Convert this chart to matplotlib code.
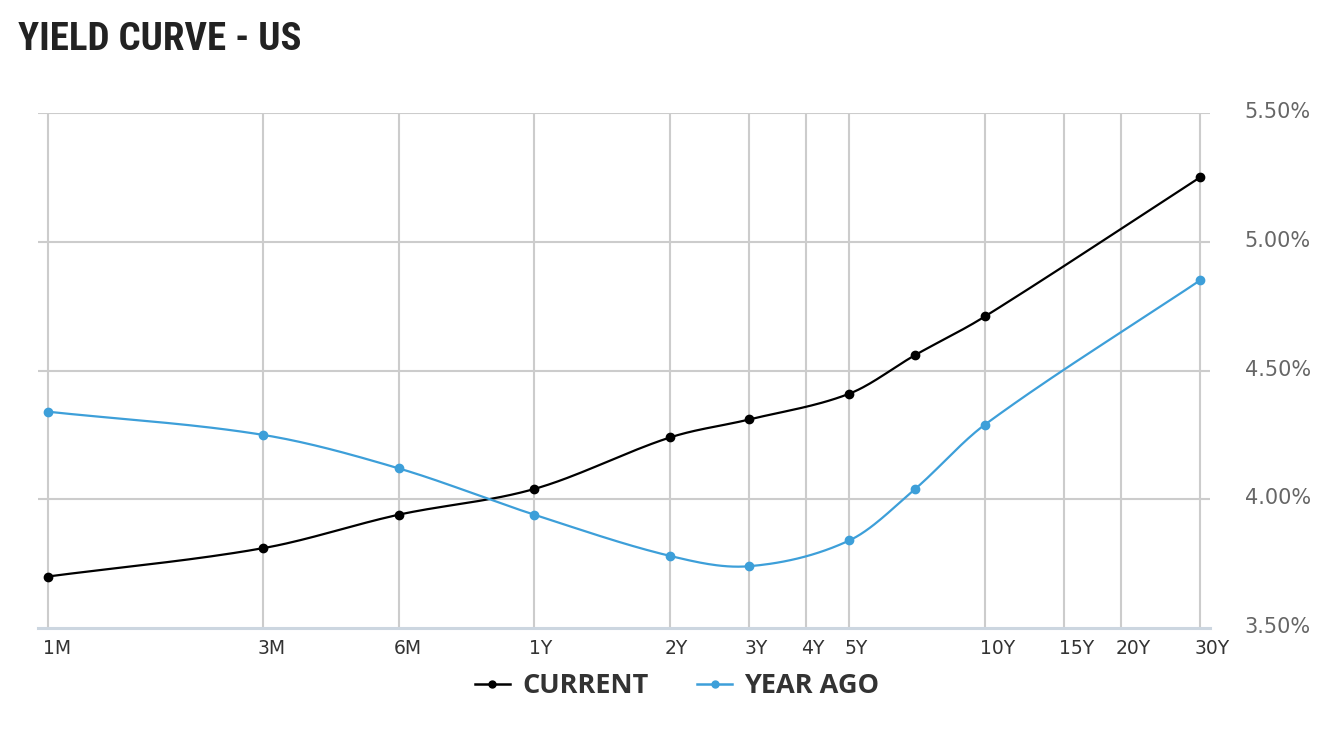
import numpy as np
import matplotlib
matplotlib.use("Agg")
import matplotlib.pyplot as plt
import matplotlib.transforms as mtrans
from matplotlib.ticker import FixedLocator, FixedFormatter, NullLocator

# maturities in months
maturity = [1, 3, 6, 12, 24, 36, 60, 84, 120, 360]
current = [3.70, 3.81, 3.94, 4.04, 4.24, 4.31, 4.41, 4.56, 4.71, 5.25]
year_ago = [4.34, 4.25, 4.12, 3.94, 3.78, 3.74, 3.84, 4.04, 4.29, 4.85]

tick_pos = [1, 3, 6, 12, 24, 36, 48, 60, 120, 180, 240, 360]
tick_lbl = ['1M', '3M', '6M', '1Y', '2Y', '3Y', '4Y', '5Y', '10Y', '15Y', '20Y', '30Y']
y_ticks = [3.5, 4.0, 4.5, 5.0, 5.5]


def smooth(x, y, n=30):
    # catmull-rom style spline in log-x space, just for drawing the line
    lx = np.log(np.asarray(x, float))
    y = np.asarray(y, float)
    m = np.zeros_like(y)
    m[1:-1] = (y[2:] - y[:-2]) / (lx[2:] - lx[:-2])
    m[0] = (y[1] - y[0]) / (lx[1] - lx[0])
    m[-1] = (y[-1] - y[-2]) / (lx[-1] - lx[-2])
    xs, ys = [], []
    for i in range(len(lx) - 1):
        h = lx[i + 1] - lx[i]
        t = np.linspace(0, 1, n)
        h00 = 2 * t**3 - 3 * t**2 + 1
        h10 = t**3 - 2 * t**2 + t
        h01 = -2 * t**3 + 3 * t**2
        h11 = t**3 - t**2
        xs.append(lx[i] + t * h)
        ys.append(h00 * y[i] + h10 * h * m[i] + h01 * y[i + 1] + h11 * h * m[i + 1])
    return np.exp(np.concatenate(xs)), np.concatenate(ys)


fig = plt.figure(figsize=(13.34, 7.36), dpi=100)
ax = fig.add_axes([38 / 1334, 108 / 736, 1172 / 1334, 515 / 736])

grid_c = '#cccccc'
for t in tick_pos:
    ax.axvline(t, color=grid_c, lw=1.5, zorder=1)
for v in y_ticks[1:]:
    ax.axhline(v, color=grid_c, lw=1.5, zorder=1)

blue = '#3d9fd9'
for vals, col, name in [(current, 'black', 'CURRENT'), (year_ago, blue, 'YEAR AGO')]:
    sx, sy = smooth(maturity, vals)
    ax.plot(sx, sy, color=col, lw=1.6, zorder=3)
    ax.plot(maturity, vals, 'o', color=col, ms=6, zorder=4)
    ax.plot([], [], '-o', color=col, lw=1.8, ms=5, label=name)

ax.set_xscale('log')
ax.set_xlim(0.95, 378.9)
ax.set_ylim(3.5, 5.5)
ax.xaxis.set_major_locator(FixedLocator(tick_pos))
ax.xaxis.set_major_formatter(FixedFormatter(tick_lbl))
ax.xaxis.set_minor_locator(NullLocator())
ax.yaxis.tick_right()
ax.set_yticks(y_ticks)
ax.set_yticklabels(['%.2f%%' % v for v in y_ticks])
for s in ['top', 'left', 'right']:
    ax.spines[s].set_visible(False)
ax.spines['bottom'].set_color('#ccd6e0')
ax.spines['bottom'].set_linewidth(2.2)
ax.spines['bottom'].set_zorder(2)
ax.tick_params(axis='x', length=0, pad=8, labelsize=13.5, labelcolor='#333333')
ax.tick_params(axis='y', length=0, pad=25, labelsize=15, labelcolor='#666666')
for lbl in ax.get_xticklabels() + ax.get_yticklabels():
    lbl.set_fontfamily('DejaVu Sans')
# x labels start just left of their grid line
offset = mtrans.ScaledTranslation(-5 / 100, 0, fig.dpi_scale_trans)
for lbl in ax.get_xticklabels():
    lbl.set_horizontalalignment('left')
    lbl.set_transform(lbl.get_transform() + offset)
offy = mtrans.ScaledTranslation(0, 3 / 100, fig.dpi_scale_trans)
for lbl in ax.get_yticklabels():
    lbl.set_transform(lbl.get_transform() + offy)

fig.text(18 / 1334, 1 - 40 / 736, 'YIELD CURVE - US', fontsize=28, fontweight='bold',
         family=['Roboto Condensed', 'Roboto', 'DejaVu Sans'], color='#222222', va='center')

leg = fig.legend(loc='center', bbox_to_anchor=(677 / 1334, 1 - 686 / 736), ncol=2,
                 frameon=False, handlelength=1.3, handletextpad=0.45, columnspacing=1.8,
                 prop={'family': 'Open Sans', 'weight': 'bold', 'size': 19.5})
for t in leg.get_texts():
    t.set_color('#333333')

fig.savefig('out.png', dpi=100)
